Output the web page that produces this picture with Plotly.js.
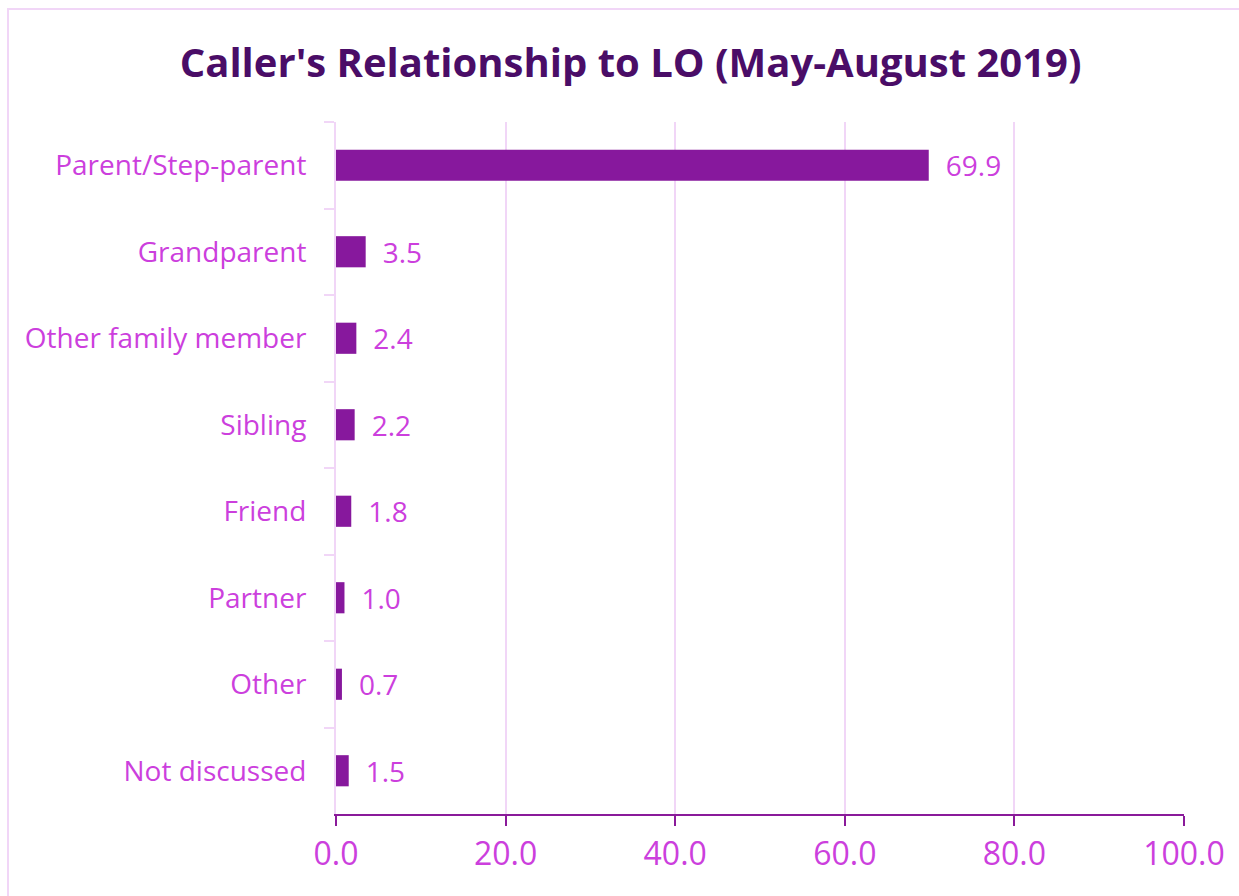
<!DOCTYPE html>
<html>
<head>
<meta charset="utf-8">
<script src="https://cdn.plot.ly/plotly-3.0.1.min.js"></script>
<style>html,body{margin:0;padding:0;background:#fff;}#chart{width:1239px;height:896px;}</style>
</head>
<body>
<div id="chart"></div>
<script>
const categories = ["Parent/Step-parent","Grandparent","Other family member","Sibling","Friend","Partner","Other","Not discussed"];
const values = [69.9, 3.5, 2.4, 2.2, 1.8, 1.0, 0.7, 1.5];
const xTickVals = [0, 20, 40, 60, 80, 100];

const labelColor = "#cc3fdd";
const fam = "'Open Sans', sans-serif";
const trace = {
  type: "bar",
  orientation: "h",
  y: categories,
  x: values,
  width: 0.36,
  marker: {color: "#87189d"},
  text: values.map(v => "\u2002" + v.toFixed(1)),
  textposition: "outside",
  constraintext: "none",
  textfont: {family: fam, size: 28, color: labelColor},
  cliponaxis: false,
  hoverinfo: "skip"
};

const layout = {
  width: 1239, height: 896,
  margin: {l: 336, r: 55, t: 122, b: 82},
  paper_bgcolor: "#ffffff",
  plot_bgcolor: "#ffffff",
  showlegend: false,
  font: {family: fam, color: labelColor},
  title: {
    text: "<b>Caller's Relationship to LO (May-August 2019)</b>",
    font: {family: fam, size: 40, color: "#4a0d67"},
    x: 0.509, xanchor: "center", xref: "container",
    y: 0.93, yanchor: "middle", yref: "container"
  },
  xaxis: {
    range: [0, 100],
    tickvals: xTickVals,
    ticktext: xTickVals.map(v => v.toFixed(1)),
    tickfont: {size: 32, color: labelColor},
    ticklabelstandoff: 1,
    showgrid: true, gridcolor: "#f1d6f7", gridwidth: 2,
    showline: true, linecolor: "#8a1a9a", linewidth: 2,
    ticks: "outside", ticklen: 10, tickwidth: 2, tickcolor: "#8a1a9a",
    zeroline: false, fixedrange: true
  },
  yaxis: {
    type: "category",
    autorange: "reversed",
    tickfont: {size: 28, color: labelColor},
    showline: true, linecolor: "#f1d6f7", linewidth: 2,
    ticks: "outside", tickson: "boundaries", ticklen: 10, tickwidth: 2, tickcolor: "#f1d6f7",
    ticklabelstandoff: 22,
    showgrid: false, zeroline: false, fixedrange: true
  },
  shapes: [{
    type: "rect", xref: "paper", yref: "paper",
    x0: (8 - 336) / 848, x1: (1250 - 336) / 848,
    y0: (814 - 905) / 692, y1: (814 - 9) / 692,
    line: {color: "#f1d6f7", width: 2}, fillcolor: "rgba(0,0,0,0)", layer: "below"
  }]
};

Plotly.newPlot("chart", [trace], layout, {displayModeBar: false, staticPlot: true});
</script>
</body>
</html>
